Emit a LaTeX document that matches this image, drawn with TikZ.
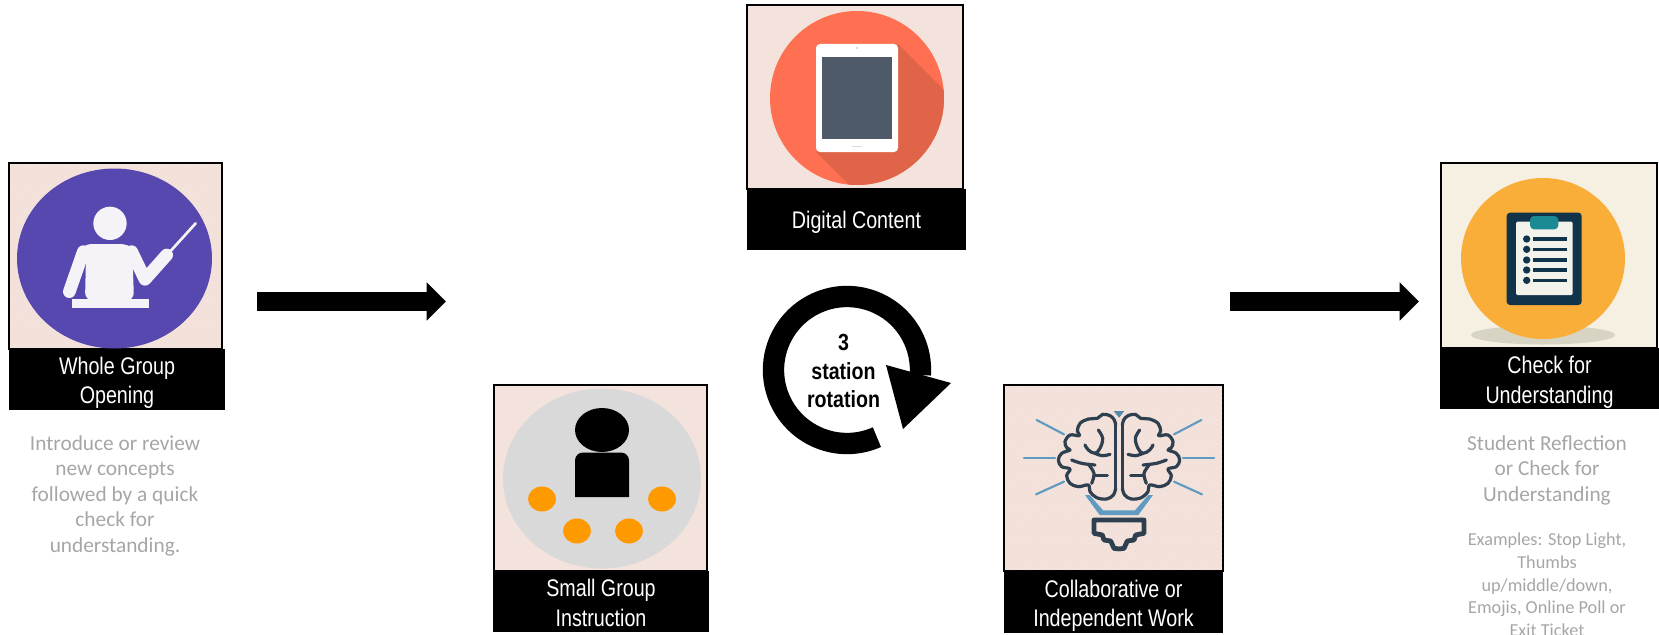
\documentclass[tikz,border=0pt]{standalone}
\usepackage{fontspec}
\setmainfont{Carlito}
\newfontfamily\bandfont[FakeStretch=0.82]{Liberation Sans}
\newfontfamily\rotfont[FakeStretch=0.84]{Liberation Sans}
\usetikzlibrary{arrows.meta}
\definecolor{bgpink}{HTML}{F4E2DC}
\definecolor{hatchpink}{HTML}{F1DED6}
\definecolor{bgcream}{HTML}{F6F0E2}
\definecolor{purplec}{HTML}{5648AE}
\definecolor{teachw}{HTML}{F5F3F8}
\definecolor{redc}{HTML}{FF6F52}
\definecolor{reds}{HTML}{E06548}
\definecolor{slatec}{HTML}{4E5A68}
\definecolor{greyc}{HTML}{D9D9D9}
\definecolor{orangec}{HTML}{FF9900}
\definecolor{braind}{HTML}{2E3F50}
\definecolor{brainb}{HTML}{5F9BC0}
\definecolor{amberc}{HTML}{F9AE3A}
\definecolor{clipd}{HTML}{12344A}
\definecolor{clipp}{HTML}{F3F3EC}
\definecolor{clipt}{HTML}{1B8A94}
\definecolor{shadc}{HTML}{D8D4C4}
\definecolor{greytext}{HTML}{A6A6A6}
\tikzset{
  picbox/.style={draw=black,line width=1.5pt,fill=bgpink,inner sep=0pt,outer sep=0pt},
  band/.style={fill=black,inner sep=0pt,outer sep=0pt},
  bandtext/.style={text=white,inner sep=0pt,align=center,
    font=\bandfont\fontsize{18}{22}\selectfont},
  greylg/.style={text=greytext,inner sep=0pt,align=center,anchor=north,
    font=\fontsize{16}{19.2}\selectfont},
  greysm/.style={text=greytext,inner sep=0pt,align=center,anchor=north,
    font=\fontsize{13.7}{16.9}\selectfont},
  blockarrow/.style={line width=14.25pt,draw=black,-{Triangle[length=14.5pt,width=27.75pt]}},
  hatchline/.style={draw=hatchpink,line width=.5pt},
  brainline/.style={draw=braind,line width=2.4pt,line cap=round,line join=round},
  brainray/.style={draw=brainb,line width=1.6pt,line cap=round}
}
\newcommand{\brainhalf}{%
  \fill[brainb] (-102,270)--(-88,270)--(-48,316)--(0,316)--(0,330)--(-58,330)--cycle;
  \fill[brainb!80!braind] (0,38)--(-16,18)--(0,18)--cycle;
  \draw[brainray] (-247,45)--(-165,88);
  \draw[brainray] (-285,158)--(-192,158);
  \draw[brainray] (-249,268)--(-165,230);
  \draw[brainline] plot[smooth,tension=.6] coordinates {(-10,60)(-14,45)(-27,32)(-49,28)(-65,40)(-92,42)(-117,55)(-125,78)(-119,92)(-147,90)(-162,110)(-157,128)(-147,135)(-172,145)(-182,165)(-172,185)(-147,192)(-157,212)(-147,235)(-122,245)(-92,240)(-87,260)(-67,278)(-37,282)(-17,270)(-10,250)};
  \draw[brainline] (-10,60)--(-10,250);
  \draw[brainline] plot[smooth,tension=.6] coordinates {(-62,75)(-49,100)(-57,130)(-72,145)(-92,135)(-102,120)};
  \draw[brainline] plot[smooth,tension=.6] coordinates {(-72,145)(-50,152)(-27,148)};
  \draw[brainline] plot[smooth,tension=.6] coordinates {(-142,165)(-112,175)(-72,180)};
  \draw[brainline] plot[smooth,tension=.6] coordinates {(-92,178)(-75,205)(-82,235)};
  \draw[brainline] (-75,212)--(-35,212);
  \draw[draw=braind,line width=3.6pt,line join=round] (0,345)--(-75,345)--(-75,385)--(-50,390)--(-45,405)--(-25,408)--(-15,430)--(0,432);
}
\begin{document}
\begin{tikzpicture}[x=.75pt,y=-.75pt]
\useasboundingbox (0,0) rectangle (1659,635);

% ---------- Whole group
\node[picbox,minimum width=213*.75pt,minimum height=186*.75pt] (wbox) at (115,256) {};
\begin{scope}
  \clip (10,165) rectangle (220,348);
  \foreach \k in {0,5,...,400}{\draw[hatchline] (10+\k-190,348)--(10+\k,165);}
\end{scope}
\fill[purplec] (114.5,258.5) ellipse [x radius=97.5,y radius=90];
\begin{scope}[shift={(50,190)},x=.25pt,y=-.25pt]
  \fill[teachw] (180,100) circle [radius=50];
  \fill[teachw,rounded corners=6pt] (105,332)--(108,200)--(85,190)--(100,162)--(235,162)--(270,190)--(248,215)--(252,332)--cycle;
  \draw[teachw,line width=9.5pt,line cap=round,line join=round] (100,185)--(58,305);
  \draw[teachw,line width=9.5pt,line cap=round,line join=round] (245,185)--(285,268)--(350,195);
  \draw[teachw,line width=2pt,line cap=round] (360,185)--(437,100);
  \fill[teachw] (65,328) rectangle (298,355);
\end{scope}
\node[band,minimum width=216*.75pt,minimum height=60.5*.75pt] (wband) at (117,379.5) {};
\node[bandtext] (wlabel) at ([yshift=-2.5pt]wband.center) {Whole Group\\Opening};
\node[greylg] (wtext) at (115,435) {Introduce or review\\new concepts\\followed by a quick\\check for\\understanding.};

% ---------- Digital content
\node[picbox,minimum width=216*.75pt,minimum height=184*.75pt] (dbox) at (855,97) {};
\begin{scope}
  \clip (857,98) ellipse [x radius=87,y radius=87];
  \fill[redc] (770,11) rectangle (944,185);
  \fill[reds] (898,44)--(960,106)--(960,200)--(864,200)--(816,152)--cycle;
\end{scope}
\fill[white,rounded corners=3pt] (816,44) rectangle (898,152);
\fill[slatec] (822,57) rectangle (892,139);
\fill[greyc] (852,145.5) rectangle (862,146.5);
\fill[greyc] (856,47.5) rectangle (858,49.5);
\node[band,minimum width=219*.75pt,minimum height=61*.75pt] (dband) at (856.5,219.5) {};
\node[bandtext] (dlabel) at ([yshift=-2.2pt]dband.center) {Digital Content};

% ---------- Small group
\node[picbox,minimum width=213*.75pt,minimum height=186*.75pt] (sbox) at (600.5,478) {};
\fill[greyc] (602,478.5) ellipse [x radius=99,y radius=90];
\fill[black] (602,430) ellipse [x radius=27,y radius=22];
\fill[black,rounded corners=6pt] (575,497) [sharp corners] -- (575,470) [rounded corners=6pt] -- (575,452.5) -- (629,452.5) -- (629,470) [sharp corners] -- (629,497) -- cycle;
\foreach \px/\py in {542/499,662/499,577/531,629/531}{\fill[orangec] (\px,\py) ellipse [x radius=14,y radius=12.5];}
\node[band,minimum width=216*.75pt,minimum height=61*.75pt] (sband) at (601,601.5) {};
\node[bandtext] (slabel) at ([yshift=-1pt]sband.center) {Small Group\\Instruction};

% ---------- Rotation
\coordinate (ringc) at (847,370);
\draw[line width=16pt] (ringc) ++(66:73.5) arc[start angle=66,end angle=364,radius=73.5];
\coordinate (hb) at (886,365);
\coordinate (hc) at (951,383);
\coordinate (ht) at (903,429);
\fill[black] (hb)--(hc)--(ht)--cycle;
\node[inner sep=0pt,align=center,font=\rotfont\bfseries\fontsize{17.5}{21.5}\selectfont] (rtext) at (843.5,371) {3\\station\\rotation};

% ---------- Collaborative
\node[picbox,minimum width=219*.75pt,minimum height=186*.75pt] (cbox) at (1113.5,478) {};
\begin{scope}
  \clip (1005.5,386.5) rectangle (1222,570);
  \foreach \k in {0,5,...,420}{\draw[hatchline] (1005+\k-190,570)--(1005+\k,386);}
\end{scope}
\begin{scope}[shift={(1119,405)},x=.25pt,y=-.25pt]
  \brainhalf
  \begin{scope}[x=-.25pt]
    \brainhalf
  \end{scope}
\end{scope}
\node[band,minimum width=219*.75pt,minimum height=62*.75pt] (cband) at (1113.5,602) {};
\node[bandtext] (clabel) at ([yshift=-2.6pt]cband.center) {Collaborative or\\Independent Work};

% ---------- Check
\node[picbox,fill=bgcream,minimum width=216*.75pt,minimum height=185*.75pt] (kbox) at (1549,255.5) {};
\fill[shadc] (1543,335) ellipse [x radius=72,y radius=9.5];
\fill[amberc] (1543,258.5) ellipse [x radius=82,y radius=80.5];
\begin{scope}[shift={(1490,200)},x=.25pt,y=-.25pt]
  \fill[clipd,rounded corners=2.5pt] (50,38) rectangle (275,315);
  \fill[clipp,rounded corners=1pt] (78,65) rectangle (248,285);
  \fill[clipt,rounded corners=3pt] (120,48) rectangle (205,88);
  \foreach \ly in {117,148,180,210,241}{
    \fill[clipd] (110,\ly) circle [radius=11];
    \draw[clipd,line width=2.6pt] (130,\ly)--(230,\ly);
  }
\end{scope}
\node[band,minimum width=219*.75pt,minimum height=61*.75pt] (kband) at (1549.5,378.5) {};
\node[bandtext] (klabel) at ([yshift=-2.8pt]kband.center) {Check for\\Understanding};
\node[greylg] (ktext) at (1547,435) {Student Reflection\\or Check for\\Understanding};
\node[greysm] (ksmall) at (1547,533) {Examples: Stop Light,\\Thumbs\\up/middle/down,\\Emojis, Online Poll or\\Exit Ticket};

% ---------- Arrows
\coordinate (a1s) at (257,301.5);
\coordinate (a1e) at (446,301.5);
\coordinate (a2s) at (1230,301.5);
\coordinate (a2e) at (1419,301.5);
\draw[blockarrow] (a1s)--(a1e);
\draw[blockarrow] (a2s)--(a2e);
\end{tikzpicture}
\end{document}
